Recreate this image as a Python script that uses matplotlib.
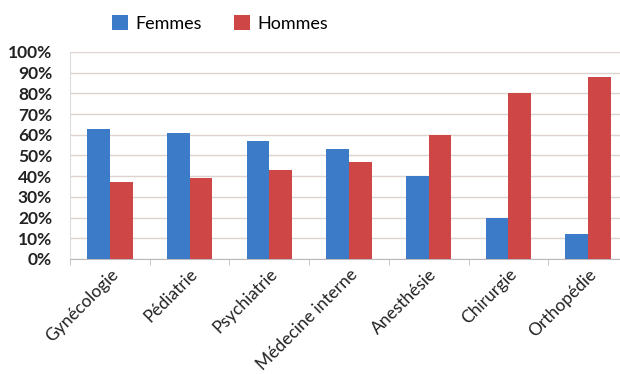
import numpy as np
import matplotlib.pyplot as plt
from matplotlib.ticker import PercentFormatter
from matplotlib.transforms import ScaledTranslation

categories = ['Gynécologie', 'Pédiatrie', 'Psychiatrie', 'Médecine interne',
              'Anesthésie', 'Chirurgie', 'Orthopédie']
femmes = [63, 61, 57, 53, 40, 20, 12]
hommes = [37, 39, 43, 47, 60, 80, 88]
y_ticks = list(range(0, 101, 10))

plt.rcParams['font.family'] = ['Lato', 'DejaVu Sans']

fig = plt.figure(figsize=(6.2, 3.74), dpi=100)
ax = fig.add_axes([0.113, 0.3075, 0.90, 0.5535])

x = np.arange(len(categories))
w = 0.285
ax.bar(x - w / 2, femmes, w, color='#3b7bc8', label='Femmes', zorder=3)
ax.bar(x + w / 2, hommes, w, color='#cf4646', label='Hommes', zorder=3)

ax.set_xlim(-0.5, len(categories) - 0.5)
ax.set_ylim(0, 100)
ax.set_yticks(y_ticks)
ax.yaxis.set_major_formatter(PercentFormatter(decimals=0))
ax.tick_params(axis='y', length=0, labelsize=12.5, pad=13)
for lab in ax.get_yticklabels():
    lab.set_fontweight('bold')
    lab.set_color('#222222')
ax.grid(axis='y', color='#ddd3cf', linewidth=1, zorder=0)

ax.set_xticks(x)
ax.set_xticklabels(categories, rotation=45, ha='right', rotation_mode='anchor',
                   fontsize=12.5, color='#222222')
shift = ScaledTranslation(-8 / 100, 0, fig.dpi_scale_trans)
for lab in ax.get_xticklabels():
    lab.set_transform(lab.get_transform() + shift)
ax.set_xticks(np.arange(len(categories) + 1) - 0.5, minor=True)
ax.tick_params(axis='x', which='major', length=0, pad=5)
ax.tick_params(axis='x', which='minor', length=4, color='#bbbbbb')

for s in ['top', 'right']:
    ax.spines[s].set_visible(False)
ax.spines['left'].set_color('#dddddd')
ax.spines['bottom'].set_color('#bbbbbb')

fig.legend(loc='center', bbox_to_anchor=(0.355, 0.938), ncol=2, frameon=False,
           fontsize=13, handlelength=0.9, handleheight=0.9, columnspacing=1.8,
           handletextpad=0.4)

fig.savefig('out.png', dpi=100)
